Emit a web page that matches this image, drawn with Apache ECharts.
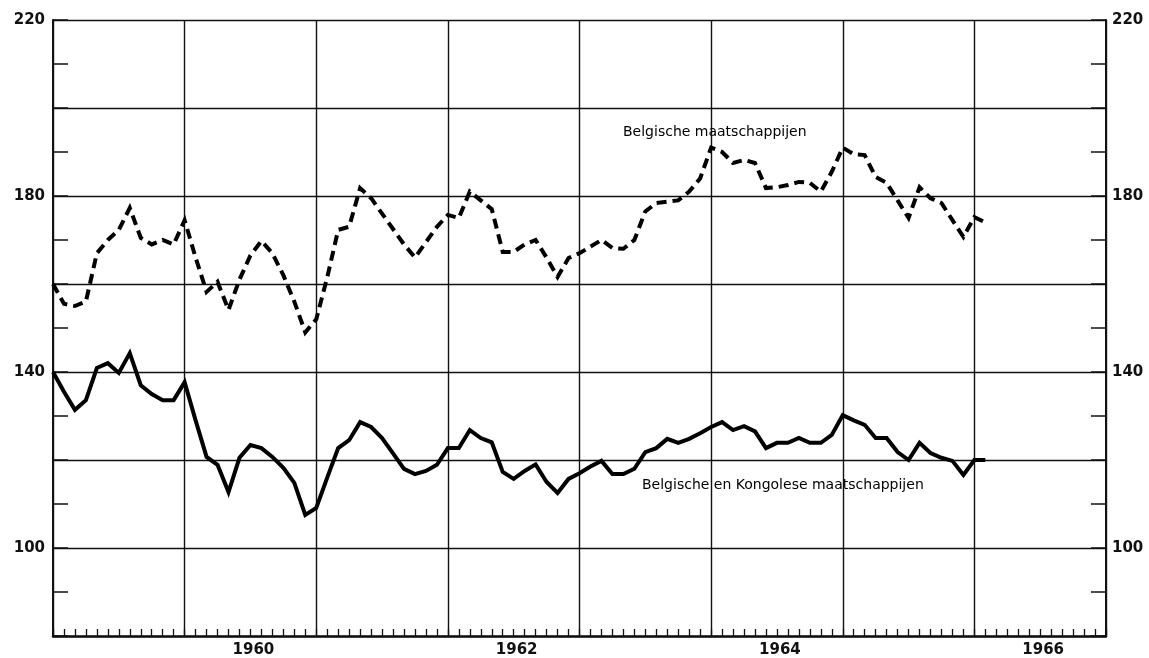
<!DOCTYPE html>
<html>
<head>
<meta charset="utf-8">
<script src="https://cdn.jsdelivr.net/npm/echarts@6/dist/echarts.min.js"></script>
<style>
  html, body { margin: 0; padding: 0; background: #ffffff; }
  #chart { width: 1149px; height: 658px; }
</style>
</head>
<body>
<div id="chart"></div>
<script>
// Monthly index values; position 0 is January 1959, one value per month.
const startYear = 1959;
const monthsOnAxis = 96;

// Index of Belgian companies (dashed line)
const belgischeMaatschappijen = [
  160, 155.5, 155, 156, 167, 170, 172.3, 177.3, 170.5, 169, 170, 169,
  174.5, 166, 158.2, 160.5, 154.1, 161, 166.5, 169.8, 167, 162, 156, 149,
  152, 161.5, 172.3, 173, 181.8, 179.5, 176, 172.5, 169, 166, 169.5, 173,
  175.7, 175, 181, 179, 177, 167.3, 167.3, 169, 170, 166, 161.6, 165.9,
  167, 168.5, 170, 168.2, 168, 170, 176.5, 178.4, 178.7, 179, 181, 184,
  191, 190, 187.5, 188.2, 187.5, 181.8, 182, 182.5, 183.2, 183, 181, 185.5,
  191, 189.5, 189.3, 184.3, 183, 179, 175, 182, 179.5, 178.4, 174.5, 170.7,
  175.2, 174
];

// Index of Belgian and Congolese companies (solid line)
const belgischeEnKongolese = [
  140, 135.5, 131.4, 133.6, 140.9, 142, 139.8, 144.3, 137, 135, 133.6, 133.6,
  137.7, 129, 120.7, 118.9, 112.7, 120.5, 123.4, 122.7, 120.7, 118.2, 114.8, 107.5,
  109.1, 116, 122.7, 124.5, 128.6, 127.5, 125, 121.5, 118, 116.8, 117.5, 118.9,
  122.7, 122.7, 126.8, 125, 124, 117.3, 115.7, 117.5, 119, 115, 112.5, 115.7,
  117, 118.5, 119.8, 116.8, 116.8, 118, 121.8, 122.7, 124.8, 123.9, 124.8, 126.1,
  127.5, 128.6, 126.8, 127.7, 126.5, 122.7, 123.9, 123.9, 125, 123.9, 123.9, 125.7,
  130.2, 129, 128, 125, 125, 121.8, 120, 123.9, 121.6, 120.5, 119.8, 116.6,
  120, 120
];

const yearLabels = ['1960', '1962', '1964', '1966'];
const valueLabels = ['100', '140', '180', '220'];

const seriesNames = ['Belgische maatschappijen', 'Belgische en Kongolese maatschappijen'];

const ink = '#111111';
const axisFont = { fontFamily: 'DejaVu Sans', fontWeight: 'bold', fontSize: 15, color: ink };

function toPoints(values) {
  return values.map((v, i) => [i, v]);
}

function yearLabel(v) {
  // labels sit in the middle of a calendar year
  if ((v - 6) % 12 !== 0) return '';
  const y = String(startYear + Math.floor(v / 12));
  return yearLabels.indexOf(y) >= 0 ? y : '';
}

function valueLabel(v) {
  const s = String(v);
  return valueLabels.indexOf(s) >= 0 ? s : '';
}

// Scale with a tick every 10 points, pointing into the plot
function tickedValueAxis(position, margin) {
  return {
    type: 'value',
    position: position,
    min: 80,
    max: 220,
    interval: 10,
    axisLine: { show: true, onZero: false, lineStyle: { color: ink, width: 2 } },
    axisTick: { show: true, inside: true, length: 15, lineStyle: { color: ink, width: 1.5 } },
    axisLabel: Object.assign({ margin: margin, formatter: valueLabel }, axisFont),
    splitLine: { show: false }
  };
}

// Same scale carrying only the horizontal rules every 20 points
const ruleAxis = {
  type: 'value',
  position: 'left',
  min: 80,
  max: 220,
  interval: 20,
  axisLine: { show: false, onZero: false },
  axisTick: { show: false },
  axisLabel: { show: false },
  splitLine: { show: true, lineStyle: { color: ink, width: 1.4 } }
};

const chart = echarts.init(document.getElementById('chart'), null, { renderer: 'canvas' });

chart.setOption({
  backgroundColor: '#ffffff',
  animation: false,
  grid: { left: 53, right: 43, top: 20, bottom: 22, containLabel: false },
  xAxis: [
    {
      type: 'value',
      min: 0,
      max: monthsOnAxis,
      interval: 12,
      position: 'bottom',
      axisLine: { show: true, onZero: false, lineStyle: { color: ink, width: 2.5 } },
      axisTick: { show: true, inside: true, length: 7, lineStyle: { color: ink, width: 1.3 } },
      minorTick: { show: true, splitNumber: 12, length: 7, lineStyle: { color: ink, width: 1.3 } },
      axisLabel: { show: false },
      splitLine: { show: true, lineStyle: { color: ink, width: 1.4 } }
    },
    {
      type: 'value',
      min: 0,
      max: monthsOnAxis,
      interval: 6,
      position: 'bottom',
      axisLine: { show: false, onZero: false },
      axisTick: { show: false },
      splitLine: { show: false },
      axisLabel: Object.assign({ margin: 7, padding: [0, 0, 0, 6], formatter: yearLabel, showMinLabel: true, showMaxLabel: true }, axisFont)
    }
  ],
  yAxis: [tickedValueAxis('left', 8), tickedValueAxis('right', 6), ruleAxis],
  series: [
    {
      name: seriesNames[0],
      type: 'line',
      xAxisIndex: 0,
      yAxisIndex: 0,
      data: toPoints(belgischeMaatschappijen),
      symbol: 'none',
      lineStyle: { color: '#000000', width: 4, type: [10, 6], cap: 'butt', join: 'miter' },
      z: 5
    },
    {
      name: seriesNames[1],
      type: 'line',
      xAxisIndex: 0,
      yAxisIndex: 0,
      data: toPoints(belgischeEnKongolese),
      symbol: 'none',
      lineStyle: { color: '#000000', width: 4, join: 'miter' },
      z: 5
    }
  ],
  graphic: [
    {
      type: 'text',
      left: 623,
      top: 125,
      style: { text: seriesNames[0], font: '14px "DejaVu Sans"', fill: '#000000' }
    },
    {
      type: 'text',
      left: 642,
      top: 478,
      style: { text: seriesNames[1], font: '14px "DejaVu Sans"', fill: '#000000' }
    }
  ]
});
</script>
</body>
</html>
